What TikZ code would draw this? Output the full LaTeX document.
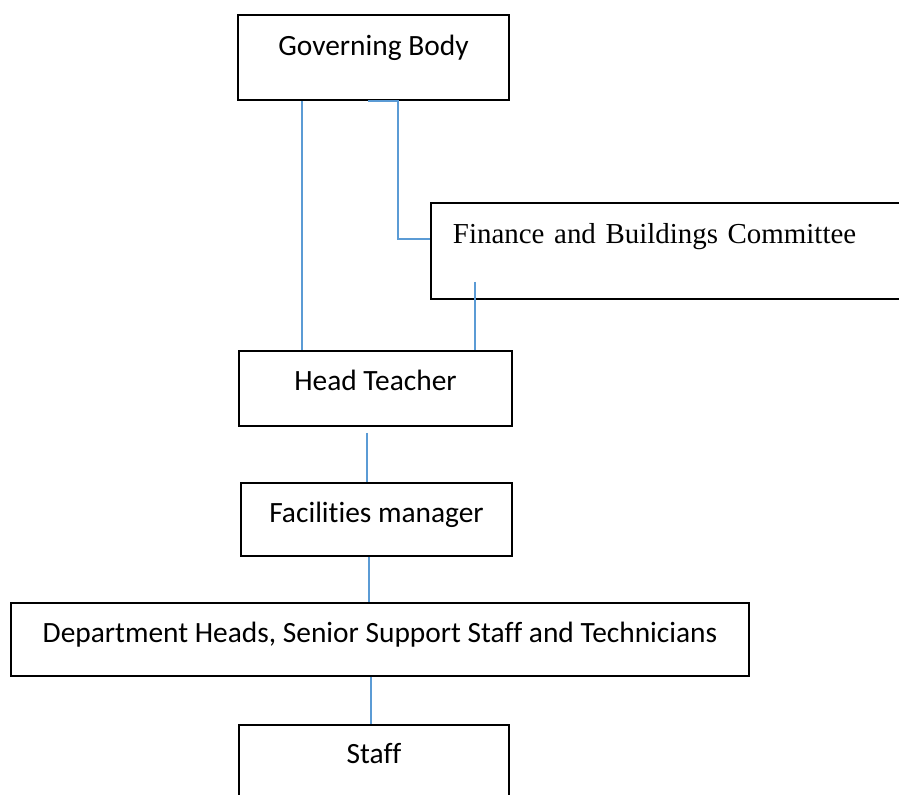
\documentclass[tikz,border=0pt]{standalone}
\usepackage{fontspec}
\setmainfont{Carlito}[Ligatures=CommonOff]
\newfontfamily\timesfont{Liberation Serif}[Ligatures=CommonOff]
\usetikzlibrary{calc}
\definecolor{linkblue}{RGB}{91,155,213}

\begin{document}
\begin{tikzpicture}
    % 1 unit = 1 pixel of the chart, y running down the page
    [x=0.408pt,y=-0.408pt,line join=miter,
     box/.style n args={3}{draw,line width=0.8pt,inner sep=0pt,anchor=base,
       font=\fontsize{12}{14}\selectfont,
       minimum width=#1*0.408pt,text height=#2*0.408pt,text depth=#3*0.408pt},
     link/.style={draw=linkblue,line width=0.55pt}]

    \clip (0,0) rectangle (899,794);

    \node[box={271}{40}{45}] (gb)    at (373.5,55)  {Governing Body};
    \node[box={1}{40}{56},anchor=base west,inner xsep=22*0.408pt,
          text width=470*0.408pt,align=left,font=\fontsize{11.8}{14}\timesfont]
                             (fbc)   at (430,243)   {Finance and Buildings Committee};
    \node[box={273}{39}{36}] (ht)    at (375.5,390) {Head Teacher};
    \node[box={271}{39}{34}] (fm)    at (376.5,522) {Facilities manager};
    \node[box={738}{39}{34}] (dept)  at (380,642)   {Department Heads, Senior Support Staff and Technicians};
    \node[box={270}{38}{60}] (staff) at (374,763)   {Staff};

    % connectors
    \draw[link] ($(gb.south west)+(65,0)$) coordinate (gbl) -- (gbl |- ht.north);
    \draw[link] ($(gb.south west)+(131,0)$) -- ++(30,0) |- ($(fbc.base west)+(0,-4)$);
    \draw[link] ($(fbc.south west)+(45,-18)$) coordinate (fbl) -- (fbl |- ht.north);
    \draw[link] ($(ht.south)+(-8.5,6)$) coordinate (htb) -- (htb |- fm.north);
    \draw[link] ($(fm.south)+(-7.5,0)$) coordinate (fmb) -- (fmb |- dept.north);
    \draw[link] ($(dept.south)+(-9,0)$) coordinate (db) -- (db |- staff.north);
\end{tikzpicture}
\end{document}
